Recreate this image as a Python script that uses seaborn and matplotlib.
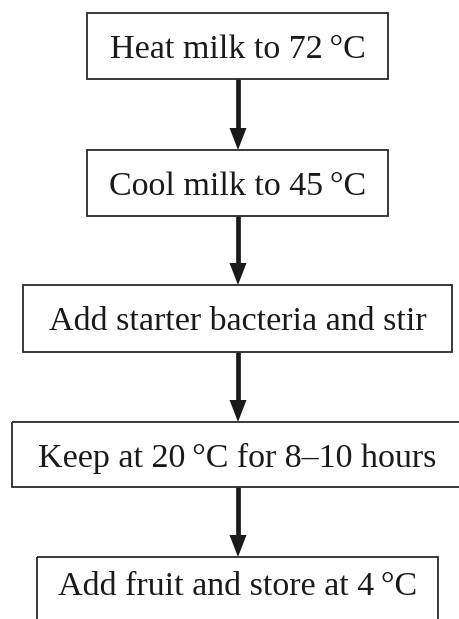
import matplotlib
matplotlib.use("Agg")
import matplotlib.pyplot as plt
from matplotlib.patches import Rectangle, Polygon
import seaborn as sns

# Flowchart content
steps = [
    "Heat milk to 72\u2009°C",
    "Cool milk to 45\u2009°C",
    "Add starter bacteria and stir",
    "Keep at 20\u2009°C for 8–10 hours",
    "Add fruit and store at 4\u2009°C",
]

# Layout (pixel coordinates, y downward)
box_left = [87, 87, 23, 12, 37]
box_right = [388, 388, 452, 462, 438]
box_top = [13, 150, 285, 422, 557]
box_bottom = [79, 216, 352, 487, 630]
text_baseline = [58, 195, 330, 467, 595]
arrow_x = 238

sns.set_theme(style="white")
plt.rcParams["font.family"] = ["Liberation Serif", "DejaVu Serif"]

W, H = 459, 619
fig = plt.figure(figsize=(W / 100, H / 100), dpi=100)
ax = fig.add_axes([0, 0, 1, 1])
ax.set_xlim(0, W)
ax.set_ylim(H, 0)
ax.axis("off")

edge = "#2a2a2a"
for i, label in enumerate(steps):
    l, r, t, b = box_left[i], box_right[i], box_top[i], box_bottom[i]
    ax.add_patch(Rectangle((l, t), r - l, b - t, fill=False, edgecolor=edge,
                           linewidth=1.3, zorder=2))
    ax.text((l + r) / 2, text_baseline[i], label, ha="center", va="baseline",
            fontsize=24.5, color="#1a1a1a", zorder=3)

head_len, head_w = 22, 17
for i in range(len(steps) - 1):
    y0 = box_bottom[i]
    y1 = box_top[i + 1]
    ax.plot([arrow_x, arrow_x], [y0, y1 - head_len + 1], color="#1a1a1a",
            linewidth=3.4, solid_capstyle="butt", zorder=1)
    ax.add_patch(Polygon([[arrow_x - head_w / 2, y1 - head_len],
                          [arrow_x + head_w / 2, y1 - head_len],
                          [arrow_x, y1]], closed=True, facecolor="#1a1a1a",
                         edgecolor="none", zorder=1))

fig.savefig("out.png", dpi=100, facecolor="white")
